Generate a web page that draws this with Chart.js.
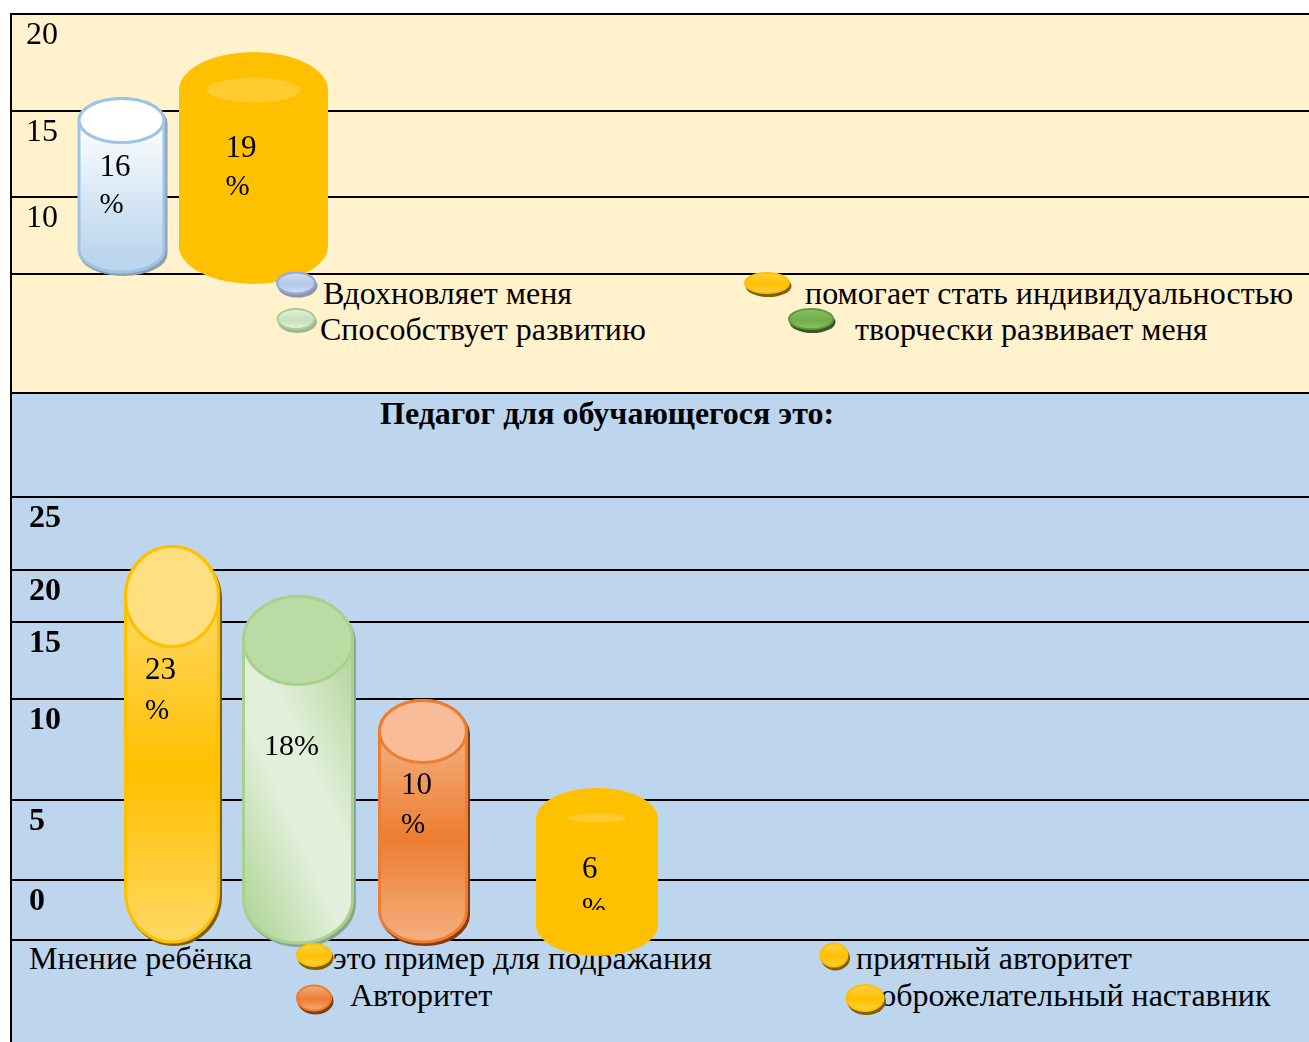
<!DOCTYPE html>
<html>
<head>
<meta charset="utf-8">
<title>Педагог для обучающегося</title>
<script src="https://cdn.jsdelivr.net/npm/chart.js@4/dist/chart.umd.js"></script>
<style>
  html, body { margin: 0; padding: 0; background: #fff; }
  #page { position: relative; width: 1309px; height: 1042px; overflow: hidden; font-family: "Liberation Serif", serif; color: #000; }
  .panel { position: absolute; left: 11px; width: 1298px; }
  #panel_top { top: 14px; height: 380px; background: #FFF2CC; }
  #panel_bottom { top: 394px; height: 648px; background: #BDD6EE; }
  canvas { position: absolute; left: 0; }
  .txt { position: absolute; line-height: 1; white-space: nowrap; transform: translateY(-0.8375em); }
</style>
</head>
<body>
<div id="page">
  <div class="panel" id="panel_top"></div>
  <div class="panel" id="panel_bottom"></div>
  <div id="texts"></div>
  <canvas id="chart_top" style="top:0"></canvas>
  <canvas id="chart_bottom" style="top:394px"></canvas>
</div>

<script>
// data
const top_categories = ['Вдохновляет меня', 'помогает стать индивидуальностью'];
const top_values = [16, 19];
const top_ticks = [20, 15, 10];
const top_legend = ['Вдохновляет меня', 'помогает стать индивидуальностью', 'Способствует развитию', 'творчески развивает меня'];

const bottom_categories = ['это пример для подражания', 'приятный авторитет', 'Авторитет', 'доброжелательный наставник'];
const bottom_values = [23, 18, 10, 6];
const bottom_ticks = [25, 20, 15, 10, 5, 0];
const bottom_legend = ['это пример для подражания', 'приятный авторитет', 'Авторитет', 'доброжелательный наставник'];
const bottom_note = 'Мнение ребёнка';
const bottom_title = 'Педагог для обучающегося это:';

// axis rows in the source are uneven, so the value axes are piecewise.
// stops are [value, page pixel]
const top_y_stops = [[0, 393], [5, 274], [10, 197], [15, 111], [16, 97], [19, 52], [20, 14]];
const bottom_y_stops = [[-1, 940], [0, 880], [5, 800], [6, 788], [10, 699], [15, 622], [18, 595], [20, 570], [23, 545], [25, 497]];
const top_x_stops = [[0, 121.5], [1, 253.5]];
const bottom_x_stops = [[0, 172], [1, 298], [2, 423], [3, 597]];

class StopScale extends Chart.LinearScale {
  static id = 'stops';
  static defaults = { ticks: { callback: Chart.Ticks.formatters.numeric } };

  getPixelForValue(value) {
    const stops = this.options.stops;
    const origin = this.options.origin || 0;
    let i = 1;
    while (i < stops.length - 1 && value > stops[i][0]) i++;
    const a = stops[i - 1], b = stops[i];
    return a[1] + (value - a[0]) / (b[0] - a[0]) * (b[1] - a[1]) - origin;
  }

  getValueForPixel(pixel) {
    const stops = this.options.stops;
    const p = pixel + (this.options.origin || 0);
    let best = stops[0];
    stops.forEach(s => { if (Math.abs(s[1] - p) < Math.abs(best[1] - p)) best = s; });
    return best[0];
  }
}
Chart.register(StopScale);

// cylinder looks. drop = how far the round bottom hangs below the baseline
const top_looks = [
  { w: 88, ry: 22, drop: 3, border: '#9DC3E6', cap: '#FFFFFF', stops: [[0, '#FFFFFF'], [0.85, '#BDD6EE'], [1, '#BDD6EE']], shadow: '#8E9FAD', label: ['16', '%'], dx: -22, dy: [79, 116] },
  { w: 149, ry: 38, drop: 11, flat: '#FFC000', glow: { dy: 38, rx: 47, ry: 12.5 }, label: ['19', '%'], dx: -28, dy: [105, 143] }
];
const bottom_looks = [
  { w: 96, ry: 50, drop: 7, border: '#FFC000', cap: '#FFDF80', stops: [[0, '#FFD966'], [0.5, '#FFC000'], [1, '#FFD966']], shadow: '#7F6000', label: ['23', '%'], dx: -27, dy: [134, 174] },
  { w: 112, ry: 44, drop: 8, border: '#A9D18E', cap: '#BBDBA5', diagonal: true, stops: [[0, '#A9D18E'], [0.42, '#E2EFDA'], [0.6, '#E2EFDA'], [1, '#AFD497']], shadow: '#8AA58F', label: ['18%'], dx: -34, dy: [160] },
  { w: 90, ry: 31, drop: 7, border: '#ED7D31', cap: '#F8BD98', stops: [[0, '#F4B183'], [0.5, '#ED7D31'], [1, '#F4B183']], shadow: '#843C0C', label: ['10', '%'], dx: -22, dy: [95, 134] },
  { w: 122, ry: 31, drop: 17, flat: '#FFC000', glow: { dy: 30, rx: 29, ry: 4.5 }, label: ['6', '%'], dx: -15, dy: [90, 129], clip_at: 122 }
];

// legend bullets on page pixels
const top_bullets = [
  { x: 296, y: 283, w: 40, h: 23, a: '#D6DFF0', b: '#B4C7E7', border: '#8FAADC', shadow: '#8E96A5' },
  { x: 296, y: 319, w: 39, h: 22, a: '#E8F2E0', b: '#C9E0BA', border: '#A9D18E', shadow: '#A3B597' },
  { x: 767, y: 283, w: 46, h: 22, a: '#FFD24D', b: '#FFC000', border: '#FFC000', shadow: '#7F6000' },
  { x: 811, y: 319, w: 46, h: 22, a: '#8CC26E', b: '#70AD47', border: '#5E9C38', shadow: '#385723' }
];
const bottom_bullets = [
  { x: 314, y: 955, w: 36, h: 24, a: '#FFD24D', b: '#FFC000', border: '#FFC000', shadow: '#7F6000' },
  { x: 314, y: 998, w: 36, h: 27, a: '#F4B183', b: '#ED7D31', border: '#ED7D31', shadow: '#843C0C' },
  { x: 834, y: 955, w: 29, h: 25, a: '#FFD24D', b: '#FFC000', border: '#FFC000', shadow: '#7F6000' },
  { x: 865, y: 998, w: 39, h: 28, a: '#FFD24D', b: '#FFC000', border: '#FFC000', shadow: '#7F6000' }
];

function cylinder_path(ctx, cx, top, bottom, w, ry) {
  const rx = w / 2;
  ctx.beginPath();
  ctx.moveTo(cx - rx, top + ry);
  ctx.ellipse(cx, top + ry, rx, ry, 0, Math.PI, 0);
  ctx.lineTo(cx + rx, bottom - ry);
  ctx.ellipse(cx, bottom - ry, rx, ry, 0, 0, Math.PI);
  ctx.closePath();
}

function draw_cylinder(ctx, cx, top, bottom, look) {
  const { w, ry } = look;
  ctx.save();
  if (look.flat) {
    ctx.fillStyle = look.flat;
    cylinder_path(ctx, cx, top, bottom, w, ry);
    ctx.fill();
    ctx.fillStyle = '#FFCB2E';
    ctx.beginPath();
    ctx.ellipse(cx, top + look.glow.dy, look.glow.rx, look.glow.ry, 0, 0, Math.PI * 2);
    ctx.fill();
    ctx.restore();
    return;
  }
  // soft offset shadow
  ctx.fillStyle = look.shadow;
  cylinder_path(ctx, cx + 2, top + 4, bottom, w, ry);
  ctx.fill();

  const mid = (top + bottom) / 2 + 20;
  const g = look.diagonal
    ? ctx.createLinearGradient(cx - 103, mid + 47, cx + 103, mid - 47)
    : ctx.createLinearGradient(0, top + ry, 0, bottom);
  look.stops.forEach(s => g.addColorStop(s[0], s[1]));
  ctx.fillStyle = g;
  ctx.strokeStyle = look.border;
  ctx.lineWidth = 3;
  cylinder_path(ctx, cx, top + 1.5, bottom - 4, w - 3, ry);
  ctx.fill();
  ctx.stroke();

  ctx.fillStyle = look.cap;
  ctx.beginPath();
  ctx.ellipse(cx, top + 1.5 + ry, (w - 3) / 2, ry, 0, 0, Math.PI * 2);
  ctx.fill();
  ctx.stroke();
  ctx.restore();
}

function draw_bullet(ctx, b) {
  ctx.save();
  ctx.fillStyle = b.shadow;
  ctx.beginPath();
  ctx.ellipse(b.x + 1.5, b.y + 3, b.w / 2, b.h / 2, 0, 0, Math.PI * 2);
  ctx.fill();
  const g = ctx.createLinearGradient(0, b.y - b.h / 2, 0, b.y + b.h / 2);
  g.addColorStop(0, b.a);
  g.addColorStop(0.55, b.b);
  g.addColorStop(1, b.a);
  ctx.fillStyle = g;
  ctx.strokeStyle = b.border;
  ctx.lineWidth = 2;
  ctx.beginPath();
  ctx.ellipse(b.x, b.y, b.w / 2 - 1, b.h / 2 - 1, 0, 0, Math.PI * 2);
  ctx.fill();
  ctx.stroke();
  ctx.restore();
}

// hidden bars give the geometry, this plugin paints them as cylinders
function cylinder_plugin(looks, bullets, origin) {
  return {
    id: 'cylinders',
    afterDatasetsDraw(chart) {
      const ctx = chart.ctx;
      const meta = chart.getDatasetMeta(0);
      meta.data.forEach((bar, i) => {
        const look = looks[i];
        draw_cylinder(ctx, bar.x, bar.y, bar.base + look.drop, look);

        ctx.save();
        if (look.clip_at) {
          ctx.beginPath();
          ctx.rect(bar.x - look.w, bar.y, look.w * 2, look.clip_at);
          ctx.clip();
        }
        ctx.fillStyle = '#000';
        ctx.textBaseline = 'alphabetic';
        look.label.forEach((t, j) => {
          // the wrapped percent sign is a bit narrower in the source
          ctx.font = (t === '%' ? 29 : t.length > 2 ? 30 : 31) + 'px "Liberation Serif"';
          ctx.fillText(t, bar.x + look.dx, bar.y + look.dy[j]);
        });
        ctx.restore();
      });
      // bullets sit on top of everything. canvas y = page y - origin
      ctx.save();
      ctx.translate(0, -origin);
      bullets.forEach(b => draw_bullet(ctx, b));
      ctx.restore();
    }
  };
}

function make_chart(id, height, origin, categories, values, ticks, y_stops, x_stops, base, looks, bullets, bold, tick_x, extra_ticks) {
  const canvas = document.getElementById(id);
  canvas.width = 1309;
  canvas.height = height;
  return new Chart(canvas, {
    type: 'bar',
    plugins: [cylinder_plugin(looks, bullets, origin)],
    data: {
      datasets: [{
        label: 'values',
        data: categories.map((c, i) => ({ x: i, y: values[i] })),
        base: base,
        backgroundColor: 'rgba(0,0,0,0)',
        borderWidth: 0
      }]
    },
    options: {
      responsive: false,
      animation: false,
      layout: { padding: { left: 11, top: origin ? 0 : 14, right: 0, bottom: 0 } },
      plugins: {
        legend: { display: false },
        tooltip: { enabled: false }
      },
      scales: {
        x: {
          type: 'stops', stops: x_stops, min: -1, max: 12,
          display: false, grid: { display: false }
        },
        y: {
          type: 'stops', stops: y_stops, origin: origin, min: y_stops[0][0], max: y_stops[y_stops.length - 1][0],
          afterBuildTicks: scale => {
            scale.ticks = ticks.concat(extra_ticks).map(v => ({ value: v }));
          },
          afterFit: scale => {
            // labels sit inside the plot, the plot keeps the whole canvas
            scale.width = 0;
            scale.paddingTop = 0;
            scale.paddingBottom = 0;
          },
          grid: { color: '#000', lineWidth: 2, drawTicks: false },
          border: { display: true, color: '#000', width: 2 },
          ticks: {
            mirror: true,
            autoSkip: false,
            padding: tick_x,
            labelOffset: 22,
            color: '#000',
            font: { family: '"Liberation Serif"', size: 32, weight: bold ? 'bold' : 'normal' },
            callback: v => ticks.includes(v) ? String(v) : ''
          }
        }
      }
    }
  });
}

make_chart('chart_top', 394, 0, top_categories, top_values, top_ticks, top_y_stops, top_x_stops, 5, top_looks, top_bullets, false, 15, [5, 0]);
make_chart('chart_bottom', 648, 394, bottom_categories, bottom_values, bottom_ticks, bottom_y_stops, bottom_x_stops, -1, bottom_looks, bottom_bullets, true, 18, [-1]);

// legend text lies under the canvas: in the source the bullets and cylinders cover it
function put_text(text, x, baseline, size, bold) {
  const el = document.createElement('div');
  el.className = 'txt';
  el.textContent = text;
  el.style.left = x + 'px';
  el.style.top = baseline + 'px';
  el.style.fontSize = size + 'px';
  if (bold) el.style.fontWeight = 'bold';
  document.getElementById('texts').appendChild(el);
}

put_text(top_legend[0], 323, 304, 32);
put_text(top_legend[1], 805, 304, 32);
put_text(top_legend[2], 320, 340, 32);
put_text(top_legend[3], 855, 340, 32);
put_text(bottom_title, 380, 424, 32, true);
put_text(bottom_note, 29, 969, 32);
put_text(bottom_legend[0], 333, 969, 32);
put_text(bottom_legend[1], 856, 969, 32);
put_text(bottom_legend[2], 350, 1006, 32);
put_text(bottom_legend[3], 864, 1006, 32);
</script>
</body>
</html>
